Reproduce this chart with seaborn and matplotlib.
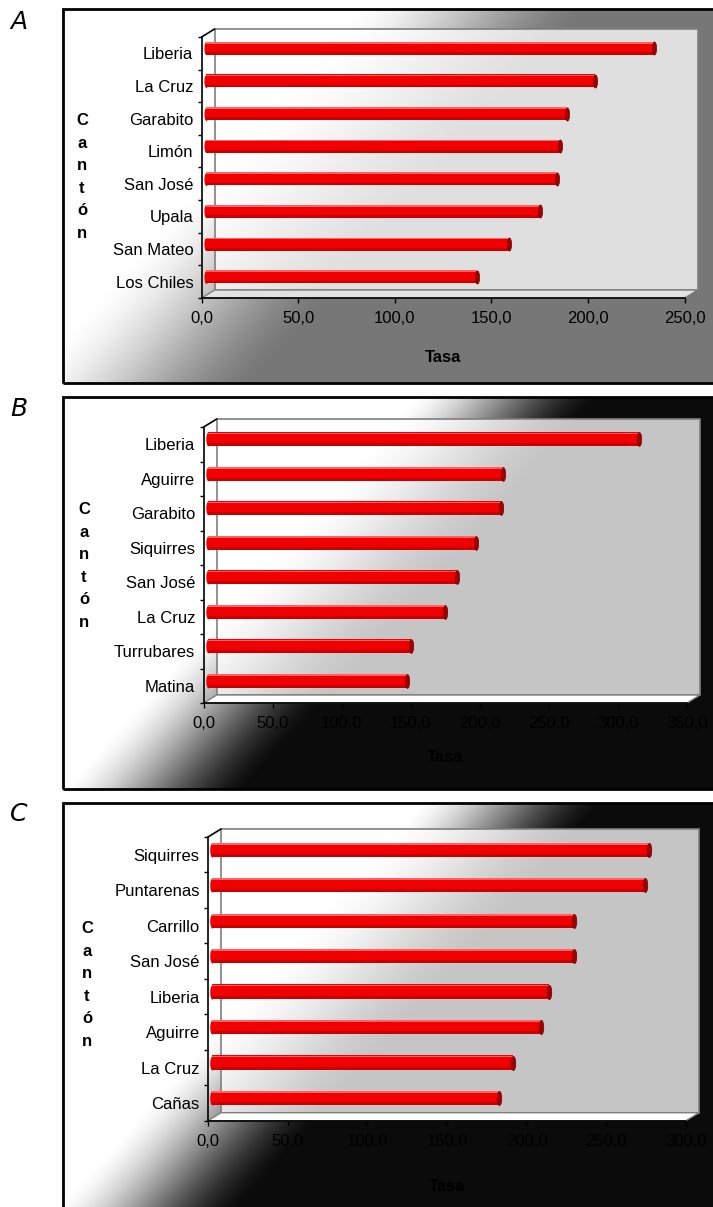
import numpy as np
import pandas as pd
import matplotlib
matplotlib.use("Agg")
import matplotlib.pyplot as plt
import seaborn as sns
from matplotlib.transforms import ScaledTranslation, Affine2D
from matplotlib.patches import Rectangle, Polygon
from matplotlib.lines import Line2D
from matplotlib.path import Path
from matplotlib.ticker import FuncFormatter

sns.set_theme(style="white")
plt.rcParams["font.family"] = ["Liberation Sans", "DejaVu Sans"]

# ---- data -------------------------------------------------------------
cantones_a = ["Liberia", "La Cruz", "Garabito", "Limón", "San José",
              "Upala", "San Mateo", "Los Chiles"]
tasas_a = [232.2, 201.6, 186.9, 183.3, 181.8, 173.2, 156.8, 140.4]

cantones_b = ["Liberia", "Aguirre", "Garabito", "Siquirres", "San José",
              "La Cruz", "Turrubares", "Matina"]
tasas_b = [312.4, 213.8, 212.3, 194.5, 180.7, 172.2, 147.2, 144.0]

cantones_c = ["Siquirres", "Puntarenas", "Carrillo", "San José", "Liberia",
              "Aguirre", "La Cruz", "Cañas"]
tasas_c = [274.0, 271.9, 227.5, 227.2, 211.8, 206.5, 189.0, 180.4]

ticks_a = [0, 50, 100, 150, 200, 250]
ticks_b = [0, 50, 100, 150, 200, 250, 300, 350]
ticks_c = [0, 50, 100, 150, 200, 250, 300]

panel_letters = ["A", "B", "C"]
x_title = "Tasa"
y_title = "Cantón"

# ---- layout (pixels on a 713 x 1207 canvas) ---------------------------
W, H, DPI = 713, 1207, 100
fig = plt.figure(figsize=(W / DPI, H / DPI), dpi=DPI)
fig.patch.set_facecolor("white")


def frac(x0, y0, x1, y1):
    return [x0 / W, 1 - y1 / H, (x1 - x0) / W, (y1 - y0) / H]


panels = [
    dict(cats=cantones_a, vals=tasas_a, ticks=ticks_a, letter=panel_letters[0],
         box=(63, 9, 716, 383), plot=(201.6, 37, 684.7, 298),
         dark=0.47, t0=300, t1=520, floor="#e2e2e2",
         letter_xy=(19, 22), ylab_xy=(82, 177), xlab_dy=60),
    dict(cats=cantones_b, vals=tasas_b, ticks=ticks_b, letter=panel_letters[1],
         box=(63, 397, 716, 789), plot=(203.7, 427, 687, 703),
         dark=0.047, t0=355, t1=530, floor="white",
         letter_xy=(19, 409), ylab_xy=(84, 566), xlab_dy=55),
    dict(cats=cantones_c, vals=tasas_c, ticks=ticks_c, letter=panel_letters[2],
         box=(63, 803, 716, 1212), plot=(208, 837, 686, 1120.7),
         dark=0.047, t0=360, t1=535, floor="white",
         letter_xy=(18.5, 814), ylab_xy=(87, 985), xlab_dy=66),
]

DEPTH_X, DEPTH_Y = 13, 8      # 3-D wall offset in pixels
BAR_X, BAR_Y = 4, 5           # bars sit half way into the depth
BAR_W = 0.40

ellipse = Path(Affine2D().scale(0.32, 1.0).transform(Path.unit_circle().vertices),
               Path.unit_circle().codes)

comma_fmt = FuncFormatter(lambda v, _: f"{v:.1f}".replace(".", ","))

for p in panels:
    # panel background with diagonal gradient
    bx0, by0, bx1, by1 = p["box"]
    bg = fig.add_axes(frac(bx0, by0, bx1, by1), zorder=0)
    pw, ph = int(bx1 - bx0), int(by1 - by0)
    xs = np.arange(pw)[None, :]
    ys = np.arange(ph)[:, None]
    t = xs + 0.9 * ys
    s = np.clip((t - p["t0"]) / (p["t1"] - p["t0"]), 0, 1)
    s = s * s * (3 - 2 * s) * 0.6 + s * 0.4
    v = 1 - s * (1 - p["dark"])
    bg.imshow(np.dstack([v, v, v]), extent=(0, 1, 0, 1), aspect="auto",
              interpolation="bilinear", origin="upper")
    bg.set_xlim(0, 1)
    bg.set_ylim(0, 1)
    bg.axis("off")
    bg.add_patch(Rectangle((0, 0), 1, 1, transform=bg.transAxes, fill=False,
                           edgecolor="black", lw=2, clip_on=False))

    # letter beside the panel
    lx, ly = p["letter_xy"]
    fig.text(lx / W, 1 - ly / H, p["letter"], ha="center", va="center",
             fontsize=18, fontstyle="italic", family="DejaVu Sans",
             fontweight="light", color="black")

    # chart area (front plane of the 3-D box)
    x0, y0, x1, y1 = p["plot"]
    ax = fig.add_axes(frac(x0, y0, x1, y1), zorder=2)
    ax.set_facecolor("none")
    axw, axh = x1 - x0, y1 - y0
    dxa, dya = DEPTH_X / axw, DEPTH_Y / axh
    n = len(p["cats"])

    df = pd.DataFrame({"canton": p["cats"], "tasa": p["vals"]})
    bar_off = ScaledTranslation(BAR_X / DPI, BAR_Y / DPI, fig.dpi_scale_trans)
    sns.barplot(data=df, x="tasa", y="canton", orient="h", color="#f00000",
                saturation=1, width=BAR_W, ax=ax, edgecolor="none")
    for bar in list(ax.patches):
        bar.set_transform(ax.transData + bar_off)
        bar.set_zorder(4)

    ypos = np.arange(n)
    tr = ax.transData + bar_off
    # rounded left ends of the tubes
    cap_s = (BAR_W * axh / n / (DPI / 72)) ** 2
    ax.scatter(np.zeros(n), ypos, marker=ellipse, s=cap_s, color="#f00000",
               linewidths=0, transform=tr, zorder=3.9)
    # shading along the tubes
    ax.barh(ypos - 0.17, p["vals"], height=0.05, color="#ff6262",
            transform=tr, zorder=4.1, linewidth=0)
    ax.barh(ypos + 0.16, p["vals"], height=0.08, color="#c80000",
            transform=tr, zorder=4.1, linewidth=0)
    # dark end caps
    ax.scatter(p["vals"], ypos, marker=ellipse, s=cap_s, color="#a00000",
               edgecolor="#780000", linewidths=0.5, transform=tr, zorder=4.5)

    # back wall, floor and outline
    wall_off = ScaledTranslation(DEPTH_X / DPI, DEPTH_Y / DPI, fig.dpi_scale_trans)
    ax.add_patch(Rectangle((0, 0), 1, 1, transform=ax.transAxes + wall_off,
                           facecolor=(1, 1, 1, 0.77), edgecolor="#7f7f7f",
                           lw=1.2, zorder=0.5, clip_on=False))
    ax.add_patch(Polygon([(0, 0), (1, 0), (1 + dxa, dya), (dxa, dya)],
                         closed=True, transform=ax.transAxes,
                         facecolor=p["floor"], edgecolor="#7f7f7f", lw=1.0,
                         zorder=0.6, clip_on=False))
    ax.add_line(Line2D([0, dxa], [1, 1 + dya], transform=ax.transAxes,
                       color="black", lw=1.2, clip_on=False, zorder=5))

    ax.set_xlim(p["ticks"][0], p["ticks"][-1])
    ax.set_ylim(n - 0.5, -0.5)
    ax.set_xticks(p["ticks"])
    ax.xaxis.set_major_formatter(comma_fmt)
    ax.set_yticks(np.arange(-0.5, n, 1.0), minor=True)

    for side in ["top", "right"]:
        ax.spines[side].set_visible(False)
    for side in ["left", "bottom"]:
        ax.spines[side].set_color("black")
        ax.spines[side].set_linewidth(1.2)
        ax.spines[side].set_zorder(5)

    ax.tick_params(axis="x", which="major", direction="out", length=3.5,
                   width=1, color="black", pad=6, labelsize=12,
                   labelcolor="black", bottom=True)
    ax.tick_params(axis="y", which="major", length=0, pad=6, labelsize=12,
                   labelcolor="black", left=True)
    ax.tick_params(axis="y", which="minor", direction="out", length=3,
                   width=1, color="black", left=True)

    ax.set_xlabel(x_title, fontsize=12, fontweight="bold", color="black")
    ax.xaxis.set_label_coords(0.5, -p["xlab_dy"] / axh)
    ax.xaxis.label.set_va("center")

    lxp, lyp = p["ylab_xy"]
    ax.set_ylabel("\n".join(y_title), fontsize=12, fontweight="bold",
                  color="black", rotation=0, linespacing=1.62,
                  ha="center", va="center")
    ax.yaxis.set_label_coords((lxp - x0) / axw, 1 - (lyp - y0) / axh)

fig.savefig("out.png", dpi=DPI, facecolor="white")
